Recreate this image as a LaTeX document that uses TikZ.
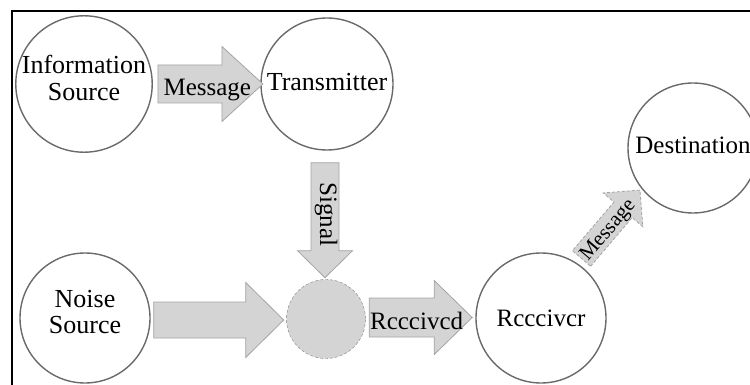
\documentclass[tikz,border=0pt]{standalone}
\usepackage{fontspec}
\setmainfont{Liberation Serif}
\usetikzlibrary{calc}
\definecolor{arrowgray}{HTML}{D4D4D4}
\definecolor{edgegray}{HTML}{A4A4A4}
\definecolor{ringgray}{HTML}{6A6A6A}
\tikzset{
  pics/bigarrow/.style args={#1/#2/#3/#4}{code={
    \draw [arrowline] (0,-#2) -- ({#1-#4},-#2) -- ({#1-#4},-#3) -- (#1,0)
      -- ({#1-#4},#3) -- ({#1-#4},#2) -- (0,#2) -- cycle;
    \coordinate (-tail) at (0,0);
    \coordinate (-tip) at (#1,0);
  }}
}
\begin{document}
\begin{tikzpicture}[x=1pt,y=1pt]
\tikzstyle{station}=[circle, draw=ringgray, line width=1.4pt, minimum size=130pt, inner sep=0pt, align=center, font=\fontsize{26}{26.5}\selectfont]
\tikzstyle{arrowline}=[draw=edgegray, fill=arrowgray, line width=0.8pt, line join=miter]
\tikzstyle{arrowtext}=[anchor=base, inner sep=0pt, font=\fontsize{25}{25}\selectfont]
\useasboundingbox (0,0) rectangle (750,-385);
\draw [black, line width=2pt] (12,-385) -- (12,-11) -- (750,-11);
\node [station, text depth=12pt] (info) at (84,-84) {Information\\Source};
\node [station, minimum size=132pt, text depth=4pt] (trans) at (327,-84) {Transmitter};
\node [station, text depth=12pt] (noise) at (85,-318) {Noise\\Source};
\node [circle, draw=gray, densely dashed, fill=arrowgray, minimum size=79pt, inner sep=0pt] (mix) at (326,-319) {};
\node [station, font=\fontsize{25}{25}\selectfont] (recv) at (541,-318) {Rcccivcr};
\node [station, font=\fontsize{25}{25}\selectfont, text depth=6pt] (dest) at (693,-148) {Destination};
\pic (msgA) at ([xshift=5pt]info.east) {bigarrow=105/19/37.5/41};
\pic [rotate=-90] (sig) at ([xshift=-2pt,yshift=-12pt]trans.south) {bigarrow=115/14/27.5/27};
\pic (noisy) at ([xshift=3pt,yshift=-2pt]noise.east) {bigarrow=130/18/37.5/38};
\pic (rcvd) at ([xshift=3.5pt,yshift=1.5pt]mix.east) {bigarrow=103/19.5/37/38};
\pic [rotate=49.5, arrowline/.append style={densely dashed}] (msgB) at ([shift={(40.5pt,59.5pt)}]recv.center) {bigarrow=90/12/26/26};
\coordinate (msgAc) at ($(msgA-tail)!.47!(msgA-tip)$);
\coordinate (sigc) at ($(sig-tail)!.45!(sig-tip)$);
\coordinate (rcvdc) at ($(rcvd-tail)!.46!(rcvd-tip)$);
\coordinate (msgBc) at ($(msgB-tail)!.43!(msgB-tip)$);
\node [arrowtext] at ($(msgAc)!11.5pt!-90:(msgA-tip)$) {Message};
\node [arrowtext, rotate=-90] at ($(sigc)!5pt!-90:(sig-tip)$) {Signal};
\node [arrowtext] at ($(rcvdc)!11.5pt!-90:(rcvd-tip)$) {Rcccivcd};
\node [arrowtext, rotate=49.5, font=\fontsize{21}{21}\selectfont] at ($(msgBc)!7pt!-90:(msgB-tip)$) {Message};
\end{tikzpicture}
\end{document}
